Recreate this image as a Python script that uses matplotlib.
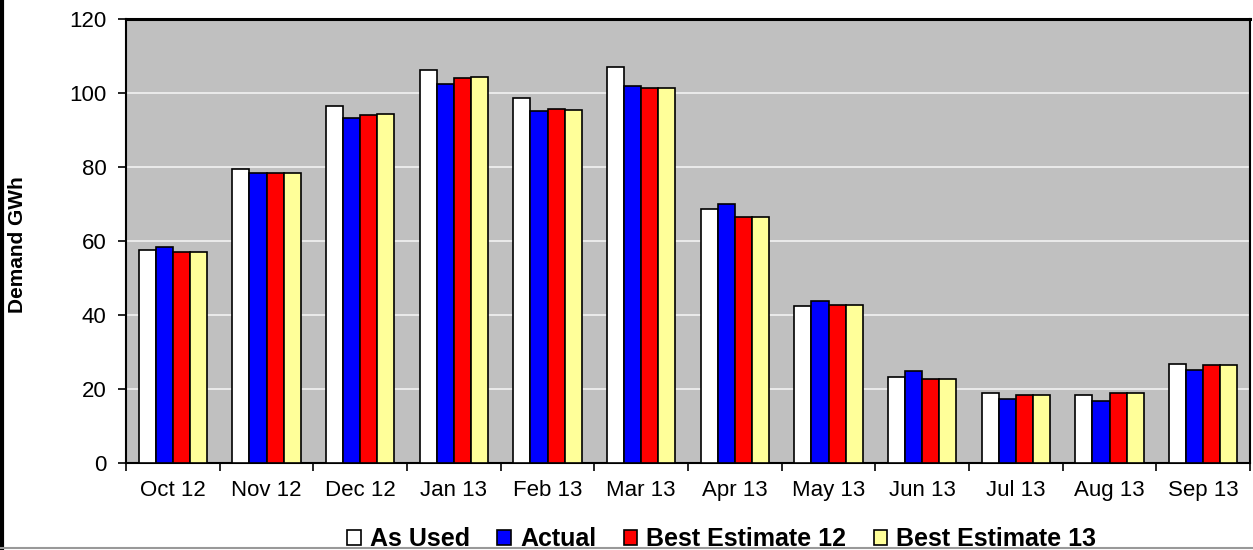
import matplotlib.pyplot as plt
import numpy as np
from matplotlib.lines import Line2D

plt.rcParams['font.family'] = ['Liberation Sans', 'DejaVu Sans']

months = ["Oct 12", "Nov 12", "Dec 12", "Jan 13", "Feb 13", "Mar 13",
          "Apr 13", "May 13", "Jun 13", "Jul 13", "Aug 13", "Sep 13"]
as_used = [57.6, 79.4, 96.5, 106.2, 98.6, 106.9, 68.6, 42.4, 23.3, 18.8, 18.5, 26.8]
actual = [58.5, 78.5, 93.2, 102.3, 95.1, 102.0, 70.0, 43.9, 24.8, 17.4, 16.8, 25.1]
best_12 = [57.1, 78.5, 94.1, 104.1, 95.6, 101.3, 66.6, 42.8, 22.7, 18.5, 18.8, 26.5]
best_13 = [57.1, 78.5, 94.4, 104.4, 95.4, 101.3, 66.6, 42.8, 22.7, 18.5, 18.8, 26.5]

series = [("As Used", as_used, "#FFFFFF"),
          ("Actual", actual, "#0000FF"),
          ("Best Estimate 12", best_12, "#FF0000"),
          ("Best Estimate 13", best_13, "#FFFF99")]

fig = plt.figure(figsize=(12.53, 5.5), dpi=100)
ax = fig.add_axes([0.1006, 0.1582, 0.897, 0.8073])
ax.set_facecolor("#C0C0C0")

x = np.arange(len(months))
w = 0.182
for i, (name, vals, col) in enumerate(series):
    ax.bar(x + (i - 1.5) * w, vals, w, color=col, edgecolor="black",
           linewidth=1.2, label=name, zorder=3)

ax.set_xlim(-0.5, len(months) - 0.5)
ax.set_ylim(0, 120)
ax.set_yticks(range(0, 121, 20))
ax.yaxis.grid(True, color="#F2F2F2", linewidth=1.2, zorder=0)
ax.set_axisbelow(True)

# category ticks sit between the groups, labels at the centres
ax.set_xticks(np.arange(-0.5, len(months)), minor=False)
ax.set_xticklabels([])
ax.set_xticks(x, minor=True)
ax.set_xticklabels(months, minor=True)
ax.tick_params(axis="x", which="major", direction="out", length=6, width=1.2)
ax.tick_params(axis="x", which="minor", length=0, pad=12, labelsize=16)
ax.tick_params(axis="y", direction="out", length=6, width=1.2, labelsize=16, pad=8)

for side in ["left", "right", "bottom"]:
    ax.spines[side].set_linewidth(1.5)
ax.spines["top"].set_linewidth(2.2)

fig.text(18 / 1253, 0.555, "Demand GWh", rotation=90, ha="center", va="center",
         fontsize=15, fontweight="bold")

ax.legend(loc="center", bbox_to_anchor=(0.53, -0.172), ncol=4, frameon=False,
          prop={"weight": "bold", "size": 18}, handlelength=0.55,
          handleheight=0.55, handletextpad=0.35, columnspacing=1.1,
          borderaxespad=0)

# outer frame edges
fig.add_artist(Line2D([0.0015, 0.0015], [0.003, 1.0], color="black", linewidth=3))
fig.add_artist(Line2D([0.0, 1.0], [0.004, 0.004], color="#999999", linewidth=1.5))

fig.savefig("out.png", dpi=100)
